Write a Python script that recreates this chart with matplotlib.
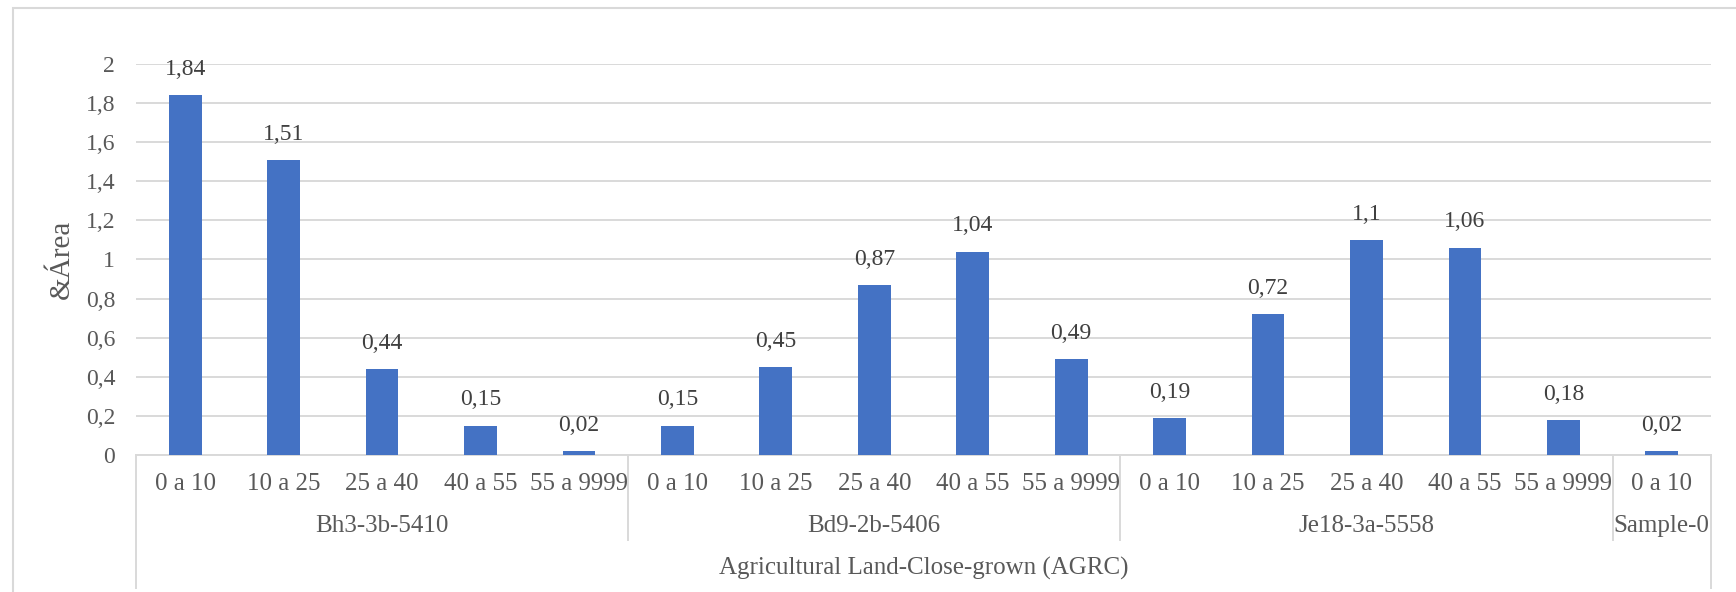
import matplotlib.pyplot as plt
from matplotlib.lines import Line2D
from matplotlib.patches import Rectangle

plt.rcParams['font.family'] = ['Liberation Serif', 'DejaVu Serif']

# Dados: área por classe de declividade, agrupada por unidade de solo
groups = ['Bh3-3b-5410', 'Bd9-2b-5406', 'Je18-3a-5558', 'Sample-0']
classes = [
    ['0 a 10', '10 a 25', '25 a 40', '40 a 55', '55 a 9999'],
    ['0 a 10', '10 a 25', '25 a 40', '40 a 55', '55 a 9999'],
    ['0 a 10', '10 a 25', '25 a 40', '40 a 55', '55 a 9999'],
    ['0 a 10'],
]
values = [
    [1.84, 1.51, 0.44, 0.15, 0.02],
    [0.15, 0.45, 0.87, 1.04, 0.49],
    [0.19, 0.72, 1.1, 1.06, 0.18],
    [0.02],
]
top_label = 'Agricultural Land-Close-grown (AGRC)'
y_ticks = [0, 0.2, 0.4, 0.6, 0.8, 1, 1.2, 1.4, 1.6, 1.8, 2]

labels = [c for grp in classes for c in grp]
vals = [v for grp in values for v in grp]
x = list(range(len(vals)))

def virgula(v):
    return ('%g' % v).replace('.', ',')

fig = plt.figure(figsize=(17.36, 5.92), dpi=100)
ax = fig.add_axes([136 / 1736, 1 - 455 / 592, (1711 - 136) / 1736, (455 - 64) / 592])

# moldura externa do gráfico
fig.patches.append(Rectangle((13 / 1736, -0.1), 1.2, 1 - 8 / 592 + 0.1, transform=fig.transFigure,
                             fill=False, edgecolor='#D9D9D9', linewidth=1.5))

bars = ax.bar(x, vals, width=0.333, color='#4472C4', zorder=3)
for xi, v in zip(x, vals):
    ax.annotate(virgula(v), (xi, v), xytext=(0, 11), textcoords='offset points',
                ha='center', va='bottom', fontsize=17, color='#404040')

ax.set_xlim(-0.5, len(vals) - 0.5)
ax.set_ylim(0, 2)
ax.set_yticks(y_ticks)
ax.set_yticklabels([virgula(t) for t in y_ticks], fontsize=17, color='#595959')
ax.tick_params(axis='y', length=0, pad=15)
ax.set_xticks([])
ax.grid(axis='y', color='#D9D9D9', linewidth=1.4, zorder=0)
for s in ['top', 'right', 'left']:
    ax.spines[s].set_visible(False)
ax.spines['bottom'].set_color('#D9D9D9')
ax.spines['bottom'].set_linewidth(1.4)
ax.set_ylabel('&Área', fontsize=21, color='#595959', labelpad=8)

# eixo de categorias em vários níveis
tr = ax.get_xaxis_transform()
for xi, lab in zip(x, labels):
    ax.text(xi, -0.074, lab, transform=tr, ha='center', va='center', fontsize=18, color='#595959')

start = 0
for g, cl in zip(groups, classes):
    end = start + len(cl)
    ax.text((start + end - 1) / 2, -0.181, g, transform=tr, ha='center', va='center',
            fontsize=18, color='#595959')
    if start > 0:
        ax.add_line(Line2D([start - 0.5, start - 0.5], [0, -0.218], transform=tr,
                           color='#D9D9D9', linewidth=1.4, clip_on=False))
    start = end

for xe in [-0.5, len(vals) - 0.5]:
    ax.add_line(Line2D([xe, xe], [0, -0.34], transform=tr, color='#D9D9D9',
                       linewidth=1.4, clip_on=False))
ax.text((len(vals) - 1) / 2, -0.29, top_label, transform=tr, ha='center', va='center',
        fontsize=18, color='#595959')

fig.savefig('out.png', dpi=100)
